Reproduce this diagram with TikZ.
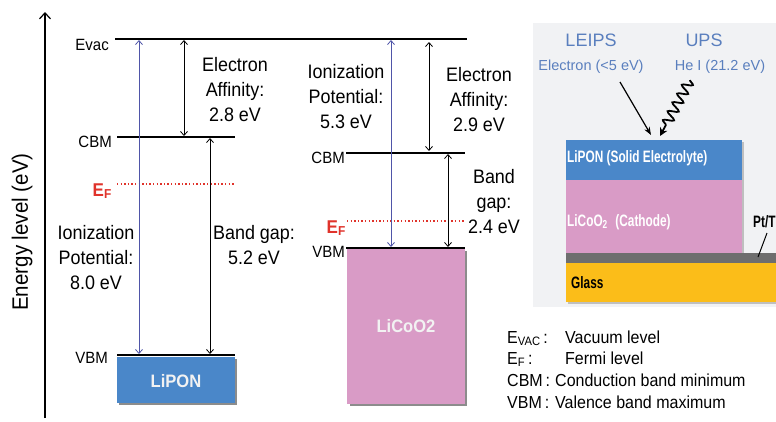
\documentclass[tikz,border=0pt]{standalone}
\usepackage{fontspec}
\setmainfont{Liberation Sans}[FakeStretch=0.92]
\newfontfamily\plainsans{Liberation Sans}
\usetikzlibrary{arrows.meta,decorations.pathmorphing}
\definecolor{ipblue}{HTML}{4F55A8}
\definecolor{efred}{HTML}{E0332B}
\definecolor{liponblue}{HTML}{4A87C9}
\definecolor{licoopink}{HTML}{D99BC6}
\definecolor{insetbg}{HTML}{F1F2F4}
\definecolor{insettext}{HTML}{5A7FBE}
\definecolor{glassyellow}{HTML}{FBBD19}
\definecolor{ptgray}{HTML}{6E6E6E}
\tikzset{
  levelline/.style={line width=1.4pt},
  efline/.style={efred, line width=1.3pt, dash pattern=on 1.4pt off 2.2pt},
  dimarrow/.style={line width=0.8pt, {Straight Barb[length=4pt,width=7pt]}-{Straight Barb[length=4pt,width=7pt]}},
  iparrow/.style={dimarrow, ipblue},
  lbl/.style={font=\fontsize{19.5}{25}\selectfont, align=center, inner sep=0pt},
  lvllbl/.style={font=\fontsize{16.3}{18}\selectfont, anchor=base east, inner sep=0pt},
  eflbl/.style={font=\fontsize{18.5}{20}\selectfont\bfseries, text=efred, anchor=base east, inner sep=0pt},
  boxlbl/.style={font=\fontsize{18}{20}\selectfont\bfseries, text=white!95!black, inner sep=0pt},
  insetlbl/.style={text=insettext, inner sep=0pt},
  layerlbl/.style={font=\fontsize{16.5}{18}\selectfont\bfseries, anchor=west, inner sep=0pt},
  legkey/.style={font=\fontsize{17.4}{19}\selectfont, anchor=base west, inner sep=0pt},
}
\begin{document}
\begin{tikzpicture}[x=1pt,y=-1pt]
\useasboundingbox (0,0) rectangle (776,421);
\fill[white] (0,0) rectangle (776,421);

% axis
\coordinate (axb) at (45,418);
\coordinate (axt) at (45,12);
\draw[line width=1.2pt, -{Straight Barb[length=6pt,width=11pt]}] (axb) -- (axt);
\node[rotate=90, font=\fontsize{22.3}{24}\selectfont, inner sep=0pt] (axlbl) at (22,232) {Energy level (eV)};

% boxes
\fill[black!45] (119,359) rectangle (237,405);
\fill[liponblue] (117,357) rectangle (235,403);
\node[boxlbl] (lipon) at (176,381) {LiPON};
\fill[black!45] (350,251) rectangle (467,406);
\fill[licoopink] (347,249) rectangle (465,404);
\node[boxlbl] (licoo) at (406,326) {LiCoO2};

% levels
\coordinate (evacA) at (115,39);
\coordinate (evacB) at (467,39);
\draw[levelline] (evacA) -- (evacB);
\node[lvllbl] (evaclbl) at (109,50) {Evac};

\coordinate (cbmLA) at (117,137);
\coordinate (cbmLB) at (235,137);
\draw[levelline] (cbmLA) -- (cbmLB);
\node[lvllbl] (cbmLlbl) at (112,147) {CBM};

\coordinate (efLA) at (117,184);
\coordinate (efLB) at (235,184);
\draw[efline] (efLA) -- (efLB);
\node[eflbl] (efLlbl) at (112,196) {E\textsubscript{F}};

\coordinate (vbmLA) at (117,355);
\coordinate (vbmLB) at (235,355);
\draw[line width=2pt] (vbmLA) -- (vbmLB);
\node[lvllbl] (vbmLlbl) at (108,363) {VBM};

\coordinate (cbmRA) at (346,153);
\coordinate (cbmRB) at (465,153);
\draw[levelline] (cbmRA) -- (cbmRB);
\node[lvllbl] (cbmRlbl) at (345,163) {CBM};

\coordinate (efRA) at (347,221);
\coordinate (efRB) at (464,221);
\draw[efline] (efRA) -- (efRB);
\node[eflbl] (efRlbl) at (346,233) {E\textsubscript{F}};

\coordinate (vbmRA) at (346,248);
\coordinate (vbmRB) at (465,248);
\draw[line width=2pt] (vbmRA) -- (vbmRB);
\node[lvllbl] (vbmRlbl) at (345,257) {VBM};

% arrows left
\coordinate (ipL1) at (139,40);
\coordinate (ipL2) at (139,354);
\draw[iparrow] (ipL1) -- (ipL2);
\coordinate (eaL1) at (184,40);
\coordinate (eaL2) at (184,136);
\draw[dimarrow] (eaL1) -- (eaL2);
\coordinate (bgL1) at (210,138);
\coordinate (bgL2) at (210,354);
\draw[dimarrow] (bgL1) -- (bgL2);

% arrows right
\coordinate (ipR1) at (391,40);
\coordinate (ipR2) at (391,247);
\draw[iparrow] (ipR1) -- (ipR2);
\coordinate (eaR1) at (429,42);
\coordinate (eaR2) at (429,151);
\draw[dimarrow] (eaR1) -- (eaR2);
\coordinate (bgR1) at (448,154);
\coordinate (bgR2) at (448,247);
\draw[dimarrow] (bgR1) -- (bgR2);

% labels
\node[lbl] (eaLlbl) at (235,90) {Electron\\Affinity:\\2.8 eV};
\node[lbl] (ipLlbl) at (96,258) {Ionization\\Potential:\\8.0 eV};
\node[lbl] (bgLlbl) at (254,245) {Band gap:\\5.2 eV};
\node[lbl] (ipRlbl) at (346,97) {Ionization\\Potential:\\5.3 eV};
\node[lbl] (eaRlbl) at (479,100) {Electron\\Affinity:\\2.9 eV};
\node[lbl] (bgRlbl) at (494,202) {Band\\gap:\\2.4 eV};

% inset
\fill[insetbg] (533,23) rectangle (776,307);
\node[insetlbl, font=\plainsans\fontsize{18}{22}\selectfont] (leips) at (591,40) {LEIPS};
\node[insetlbl, font=\plainsans\fontsize{18}{22}\selectfont] (ups) at (704,40) {UPS};
\node[insetlbl, font=\plainsans\fontsize{14.5}{18}\selectfont] (elec) at (591,67) {Electron (<5 eV)};
\node[insetlbl, font=\plainsans\fontsize{14.5}{18}\selectfont] (hei) at (720,67) {He I (21.2 eV)};
\coordinate (eA) at (620,82);
\coordinate (eB) at (651,135);
\draw[line width=1.2pt, -{Stealth[length=8pt,width=6pt]}] (eA) -- (eB);
\coordinate (wA) at (690,80);
\coordinate (wB) at (660,136);
\draw[line width=1.8pt, decorate, decoration={snake, amplitude=5pt, segment length=10pt, post length=10pt}, -{Stealth[length=8pt,width=8pt]}] (wA) -- (wB);

\fill[black!25] (568,142) rectangle (744,255);
\fill[liponblue] (566,140) rectangle (742,180);
\fill[licoopink] (566,180) rectangle (742,253);
\fill[black!25] (568,265) rectangle (778,304);
\fill[ptgray] (566,253) rectangle (776,263);
\fill[glassyellow] (566,263) rectangle (776,302);
\node[layerlbl, text=white] (liponl) at (567,158) {\scalebox{0.78}[1]{LiPON (Solid Electrolyte)}};
\node[layerlbl, text=white] (licool) at (567,222) {\scalebox{0.78}[1]{LiCoO\textsubscript{2}\hspace{0.6em}(Cathode)}};
\node[layerlbl, text=black] (glassl) at (571,283) {\scalebox{0.78}[1]{Glass}};
\node[layerlbl, text=black] (ptl) at (753,222) {\scalebox{0.78}[1]{Pt/T}};
\coordinate (ptA) at (767,233);
\coordinate (ptB) at (758,257);
\draw[line width=1pt] (ptA) -- (ptB);

% legend
\node[legkey] (k1) at (507,343) {E\textsubscript{VAC}\,:};
\node[legkey] (d1) at (565,343) {Vacuum level};
\node[legkey] (k2) at (507,364) {E\textsubscript{F}\,:};
\node[legkey] (d2) at (565,364) {Fermi level};
\node[legkey] (k3) at (507,386) {CBM\,:};
\node[legkey] (d3) at (555,386) {Conduction band minimum};
\node[legkey] (k4) at (507,408) {VBM\,:};
\node[legkey] (d4) at (555,408) {Valence band maximum};
\end{tikzpicture}
\end{document}
